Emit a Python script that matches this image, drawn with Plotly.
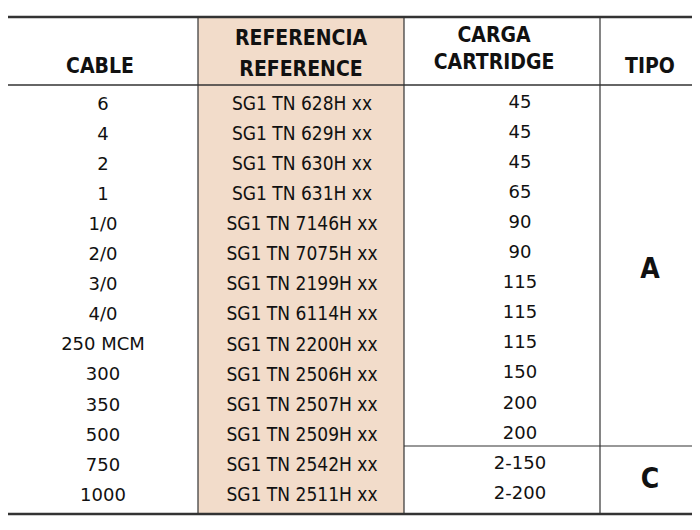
import plotly.graph_objects as go

cable = ["6", "4", "2", "1", "1/0", "2/0", "3/0", "4/0", "250 MCM", "300", "350", "500", "750", "1000"]
referencia = ["SG1 TN 628H xx", "SG1 TN 629H xx", "SG1 TN 630H xx", "SG1 TN 631H xx",
              "SG1 TN 7146H xx", "SG1 TN 7075H xx", "SG1 TN 2199H xx", "SG1 TN 6114H xx",
              "SG1 TN 2200H xx", "SG1 TN 2506H xx", "SG1 TN 2507H xx", "SG1 TN 2509H xx",
              "SG1 TN 2542H xx", "SG1 TN 2511H xx"]
carga = ["45", "45", "45", "65", "90", "90", "115", "115", "115", "150", "200", "200", "2-150", "2-200"]
tipo = ["A", "C"]
tipo_rows = [(0, 11), (12, 13)]

row_y0, row_h = 105, 30.1
ys = [row_y0 + i * row_h for i in range(len(cable))]
black = "#111111"

fig = go.Figure()
# referencia column background
fig.add_shape(type="rect", x0=198, x1=404, y0=17, y1=514, fillcolor="#f2dcca", line_width=0, layer="below")

fig.add_trace(go.Scatter(x=[103] * len(cable), y=ys, text=cable, mode="text",
                         textfont=dict(family="DejaVu Sans", size=18, color=black)))
fig.add_trace(go.Scatter(x=[302] * len(referencia), y=ys, text=referencia, mode="text",
                         textfont=dict(family="DejaVu Sans Condensed", size=19, color=black)))
fig.add_trace(go.Scatter(x=[520] * len(carga), y=[y - 2 for y in ys], text=carga, mode="text",
                         textfont=dict(family="DejaVu Sans", size=18, color=black)))
fig.add_trace(go.Scatter(x=[650] * len(tipo), y=[(ys[a] + ys[b]) / 2 for a, b in tipo_rows],
                         text=["<b>%s</b>" % t for t in tipo], mode="text",
                         textfont=dict(family="DejaVu Sans Condensed", size=28, color=black)))

headers = [(100, 68, "CABLE"), (301, 40, "REFERENCIA"), (301, 71, "REFERENCE"),
           (494, 37, "CARGA"), (494, 64, "CARTRIDGE"), (650, 68, "TIPO")]
fig.add_trace(go.Scatter(x=[h[0] for h in headers], y=[h[1] for h in headers],
                         text=["<b>%s</b>" % h[2] for h in headers], mode="text",
                         textfont=dict(family="DejaVu Sans Condensed", size=21, color=black)))

# grid lines
lines = [(3, 697, 17, 17, 2.5), (3, 697, 514, 514, 2.5), (3, 3, 17, 514, 2.5), (697, 697, 17, 514, 2.5),
         (3, 697, 85, 85, 1.5), (198, 198, 17, 514, 1.2), (404, 404, 17, 514, 1.2),
         (600, 600, 17, 514, 1.2), (404, 697, 446, 446, 1.2)]
for x0, x1, y0, y1, w in lines:
    fig.add_shape(type="line", x0=x0, x1=x1, y0=y0, y1=y1, line=dict(color="#333333", width=w))

# page body has an 8px margin, so the plot area maps onto screen pixels 8..692 / 8..522
fig.update_xaxes(range=[8, 692], visible=False, fixedrange=True)
fig.update_yaxes(range=[522, 8], visible=False, fixedrange=True)
fig.update_layout(width=684, height=514, margin=dict(l=0, r=0, t=0, b=0),
                  plot_bgcolor="white", paper_bgcolor="white", showlegend=False)
fig.write_html("out.html")
